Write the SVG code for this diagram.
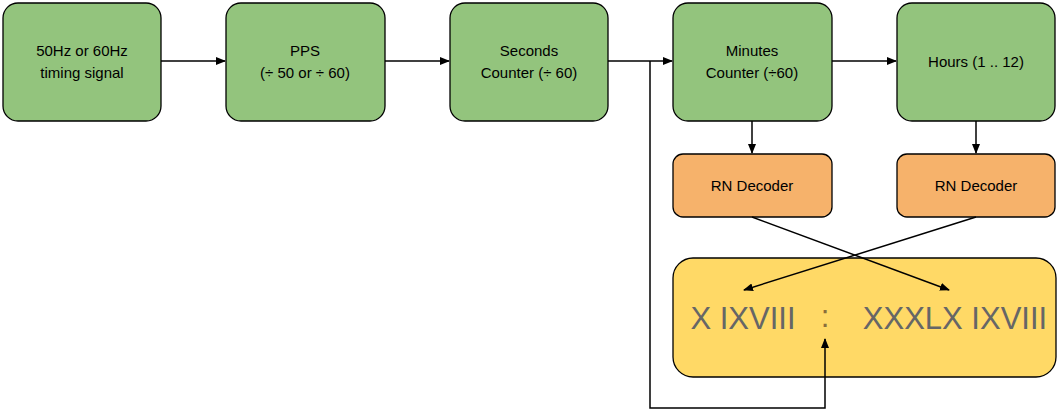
<svg xmlns="http://www.w3.org/2000/svg" width="1058" height="411" viewBox="0 0 1058 411">
<style>
.g{fill:#93c47d;stroke:#000;stroke-width:1.3}
.o{fill:#f6b26b;stroke:#000;stroke-width:1.3}
.y{fill:#ffd966;stroke:#000;stroke-width:1.3}
text{font-family:"Liberation Sans",Arial,sans-serif;font-size:15px;text-anchor:middle;fill:#000}
.big{font-size:31px;fill:#666}
.c{fill:none;stroke:#000;stroke-width:1.5}
</style>
<defs><marker id="a" markerWidth="10" markerHeight="8" refX="9" refY="4" orient="auto" markerUnits="userSpaceOnUse"><path d="M0,0L10,4L0,8z"/></marker></defs>
<g id="n1"><rect class="g" x="3" y="3" width="158" height="118" rx="15"/><text x="82" y="56">50Hz or 60Hz</text><text x="82" y="78">timing signal</text></g>
<g id="n2"><rect class="g" x="226" y="3" width="159" height="118" rx="15"/><text x="305" y="56">PPS</text><text x="305" y="78">(÷ 50 or ÷ 60)</text></g>
<g id="n3"><rect class="g" x="450" y="3" width="158" height="118" rx="15"/><text x="529" y="56">Seconds</text><text x="529" y="78">Counter (÷ 60)</text></g>
<g id="n4"><rect class="g" x="673" y="3" width="159" height="118" rx="15"/><text x="752" y="56">Minutes</text><text x="752" y="78">Counter (÷60)</text></g>
<g id="n5"><rect class="g" x="897" y="3" width="158" height="118" rx="15"/><text x="976" y="67">Hours (1 .. 12)</text></g>
<g id="r1"><rect class="o" x="673" y="154" width="159" height="63" rx="10"/><text x="752" y="191">RN Decoder</text></g>
<g id="r2"><rect class="o" x="897" y="154" width="158" height="63" rx="10"/><text x="976" y="191">RN Decoder</text></g>
<g id="disp"><rect class="y" x="673" y="258" width="383" height="119" rx="20"/><text class="big" x="743" y="329">X IXVIII</text><text class="big" x="825" y="327" fill="#b07b2a" style="fill:#8a6d3b">:</text><text class="big" x="955" y="329">XXXLX IXVIII</text></g>
<g id="connectors">
<path class="c" d="M161,61H225" marker-end="url(#a)"/>
<path class="c" d="M385,61H449" marker-end="url(#a)"/>
<path class="c" d="M608,61H672" marker-end="url(#a)"/>
<path class="c" d="M832,61H896" marker-end="url(#a)"/>
<path class="c" d="M650,61V408H825V339" marker-end="url(#a)"/>
<path class="c" d="M752,121V153" marker-end="url(#a)"/>
<path class="c" d="M976,121V153" marker-end="url(#a)"/>
<path class="c" d="M752,217L949,290" marker-end="url(#a)"/>
<path class="c" d="M976,217L744,290" marker-end="url(#a)"/>
</g>
</svg>
